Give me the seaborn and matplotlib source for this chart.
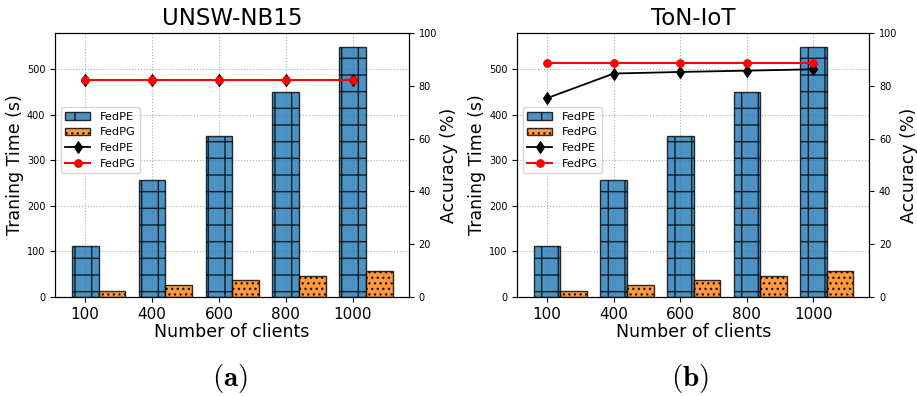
import matplotlib
matplotlib.use("Agg")
import matplotlib.pyplot as plt
import seaborn as sns
import numpy as np
import pandas as pd

clients = ["100", "400", "600", "800", "1000"]
time_fedpe = [113, 258, 354, 450, 550]
time_fedpg = [14, 27, 38, 47, 56]

acc_unsw_fedpe = [82.3, 82.3, 82.3, 82.3, 82.3]
acc_unsw_fedpg = [82.3, 82.3, 82.3, 82.3, 82.3]
acc_ton_fedpe = [75.3, 84.6, 85.2, 85.7, 86.2]
acc_ton_fedpg = [88.5, 88.5, 88.5, 88.5, 88.5]

titles = ["UNSW-NB15", "ToN-IoT"]
captions = [r"$\mathbf{(a)}$", r"$\mathbf{(b)}$"]

plt.rcParams["font.family"] = ["DejaVu Sans"]
plt.rcParams["mathtext.fontset"] = "cm"
plt.rcParams["hatch.linewidth"] = 1.0

fig = plt.figure(figsize=(9.17, 3.96), dpi=100)
ax_boxes = [[0.060, 0.250, 0.386, 0.667], [0.564, 0.250, 0.384, 0.667]]
accs = [(acc_unsw_fedpe, acc_unsw_fedpg), (acc_ton_fedpe, acc_ton_fedpg)]
cap_x = [0.251, 0.752]

pos = np.arange(len(clients))
w = 0.4

for i in range(2):
    ax = fig.add_axes(ax_boxes[i])
    ax.set_axisbelow(True)
    ax.bar(pos, time_fedpe, width=w, color="#1f77b4", alpha=0.8,
           edgecolor="black", hatch="+", label="FedPE")
    ax.bar(pos + w, time_fedpg, width=w, color="#ff7f0e", alpha=0.8,
           edgecolor="black", hatch="...", label="FedPG")
    ax.grid(True, linestyle=":", color="#b0b0b0", linewidth=0.8)
    ax.set_xticks(pos)
    ax.set_xticklabels(clients, fontsize=11)
    ax.tick_params(axis="y", labelsize=7, length=3.5)
    ax.tick_params(axis="x", length=3.5)
    ax.set_ylabel("Traning Time (s)", fontsize=12.5, labelpad=2)
    ax.set_title(titles[i], fontsize=16.5, pad=6)

    ax2 = ax.twinx()
    a_pe, a_pg = accs[i]
    df = pd.DataFrame({"pos": pos, "pe": a_pe, "pg": a_pg})
    sns.lineplot(data=df, x="pos", y="pe", ax=ax2, color="black", marker="d",
                 markersize=6, markeredgecolor="black", linewidth=1.3, label="FedPE")
    sns.lineplot(data=df, x="pos", y="pg", ax=ax2, color="red", marker="o",
                 markersize=5.5, markeredgecolor="red", linewidth=1.5, label="FedPG")
    ax2.set_ylim(0, 100)
    ax2.set_ylabel("Accuracy (%)", fontsize=12.5, labelpad=2)
    ax2.set_xlabel("")
    ax2.tick_params(axis="y", labelsize=7, length=3.5)
    ax.set_xlim(-0.45, 4.84)
    ax.set_ylim(0, 580)
    ax.set_xlabel("Number of clients", fontsize=12.5, labelpad=1)

    h1, l1 = ax.get_legend_handles_labels()
    h2, l2 = ax2.get_legend_handles_labels()
    ax2.legend(h1 + h2, l1 + l2, loc="upper left", bbox_to_anchor=(0.0, 0.74),
               fontsize=8.2, frameon=True, handlelength=2.2)

    fig.text(cap_x[i], 0.045, captions[i], ha="center", va="center", fontsize=21)

fig.savefig("out.png", dpi=100)
